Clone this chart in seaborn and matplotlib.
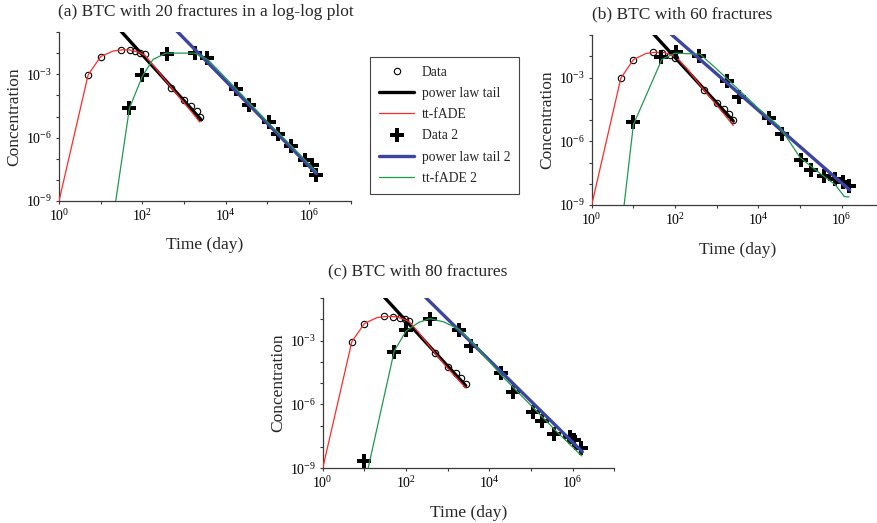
import numpy as np
import pandas as pd
import matplotlib
matplotlib.use("Agg")
import matplotlib.pyplot as plt
import seaborn as sns
from matplotlib.ticker import FixedLocator, FuncFormatter, NullLocator

# ---------------- data ----------------
# (a) 20 fractures
t_data_a = [5, 10, 30, 50, 65, 90, 115, 500, 1000, 1500, 2000, 2400]
c_data_a = [9.3e-4, 6.9e-3, 1.45e-2, 1.35e-2, 1.26e-2, 1.05e-2, 9.3e-3, 2.3e-4, 6.2e-5, 3e-5, 1.9e-5, 1e-5]
t_tail_a = [30, 2600]
c_tail_a = [0.115, 6.9e-6]
t_fade_a = [1, 5, 10, 20, 35, 50, 80, 115, 200, 500, 1000, 2400]
c_fade_a = [1e-9, 9.3e-4, 6.9e-3, 1.26e-2, 1.45e-2, 1.41e-2, 1.12e-2, 7.9e-3, 2.1e-3, 2.3e-4, 4.5e-5, 5.4e-6]
t_data2_a = [49, 100, 380, 1800, 3500, 18000, 37000, 1.1e5, 1.8e5, 3.6e5, 8e5, 1.15e6, 1.5e6]
c_data2_a = [2.4e-5, 9.3e-4, 9.5e-3, 1e-2, 6e-3, 1.9e-4, 3.5e-5, 5.2e-6, 1.5e-6, 4e-7, 8.7e-8, 4.9e-8, 1.7e-8]
t_tail2_a = [660, 1.5e6]
c_tail2_a = [0.115, 2.0e-8]
t_fade2_a = [23, 49, 100, 180, 370, 1800, 3700, 18000, 1e5, 3.2e5, 1.5e6]
c_fade2_a = [1e-9, 2.5e-5, 8e-4, 5e-3, 1e-2, 1e-2, 5e-3, 2e-4, 5.6e-6, 5.6e-7, 2.5e-8]

# (b) 60 fractures
t_data_b = [5, 10, 30, 50, 75, 100, 500, 1000, 1500, 2000, 2500]
c_data_b = [9.3e-4, 6.9e-3, 1.55e-2, 1.45e-2, 1.15e-2, 8.5e-3, 2.6e-4, 6e-5, 3.2e-5, 1.9e-5, 1e-5]
t_tail_b = [30, 2500]
c_tail_b = [0.115, 8.9e-6]
t_fade_b = [1, 5, 10, 20, 35, 55, 80, 110, 200, 500, 1000, 2500]
c_fade_b = [1e-9, 9.3e-4, 6.9e-3, 1.35e-2, 1.55e-2, 1.48e-2, 1.17e-2, 8.5e-3, 2.4e-3, 2.5e-4, 5e-5, 5.5e-6]
t_data2_b = [10, 47, 105, 380, 1800, 3500, 18000, 37000, 1.05e5, 1.8e5, 3.7e5, 7e5, 1.1e6, 1.5e6]
c_data2_b = [8.1e-6, 9.5e-3, 1.55e-2, 1.05e-2, 7.1e-4, 1.2e-4, 1.2e-5, 2.1e-6, 1.35e-7, 4.5e-8, 2.3e-8, 1.6e-8, 1.15e-8, 7.9e-9]
t_tail2_b = [76, 1.55e6]
c_tail2_b = [0.12, 5.1e-9]
t_fade2_b = [6, 10, 48, 100, 400, 1000, 2000, 10000, 32000, 1e5, 3.2e5, 7e5, 1.15e6, 1.5e6]
c_fade2_b = [1e-9, 6e-6, 7e-3, 1.4e-2, 1.25e-2, 2.5e-3, 7e-4, 3.5e-5, 5e-6, 1.7e-7, 2.8e-8, 9e-9, 2.5e-9, 2.4e-9]

# (c) 80 fractures
t_data_c = [5, 10, 30, 50, 70, 95, 115, 500, 1000, 1600, 2100, 2700]
c_data_c = [8.9e-4, 6.3e-3, 1.38e-2, 1.35e-2, 1.15e-2, 1e-2, 7.9e-3, 2.5e-4, 5.6e-5, 3e-5, 1.66e-5, 9.5e-6]
t_tail_c = [30, 2700]
c_tail_c = [0.11, 7.6e-6]
t_fade_c = [1, 5, 10, 20, 35, 55, 85, 120, 200, 500, 1000, 2700]
c_fade_c = [1e-9, 8.9e-4, 6.3e-3, 1.2e-2, 1.38e-2, 1.32e-2, 1.05e-2, 7.6e-3, 2.4e-3, 2.5e-4, 5e-5, 6e-6]
t_data2_c = [10, 51, 102, 375, 1860, 3550, 19000, 37000, 1.1e5, 1.8e5, 3.6e5, 8.5e5, 1.1e6, 1.6e6]
c_data2_c = [2.2e-9, 3e-4, 3e-3, 1.05e-2, 3e-3, 5.5e-4, 3.1e-5, 3.7e-6, 4.3e-7, 1.6e-7, 4.3e-8, 3.1e-8, 2.1e-8, 9.1e-9]
t_tail2_c = [290, 1.7e6]
c_tail2_c = [0.11, 6e-9]
t_fade2_c = [12.3, 52, 100, 200, 370, 800, 1860, 4000, 20000, 1e5, 4e5, 1.66e6]
c_fade2_c = [1e-9, 3.2e-4, 2.8e-3, 7.1e-3, 1.07e-2, 7.6e-3, 3.4e-3, 7.9e-4, 2.2e-5, 8.9e-7, 5.6e-8, 3.8e-9]

titles = ["(a) BTC with 20 fractures in a log-log plot",
          "(b) BTC with 60 fractures",
          "(c) BTC with 80 fractures"]
series_labels = ["Data", "power law tail", "tt-fADE", "Data 2", "power law tail 2", "tt-fADE 2"]
x_label = "Time (day)"
y_label = "Concentration"
x_decades = [0, 1, 2, 3, 4, 5, 6, 7]
x_labeled = [0, 2, 4, 6]
y_decades = [-9, -8, -7, -6, -5, -4, -3, -2, -1]
y_labeled = [-9, -6, -3]

# ---------------- style ----------------
sns.set_theme(style="ticks")
plt.rcParams["font.family"] = ["Liberation Serif", "DejaVu Serif"]
plt.rcParams["mathtext.fontset"] = "custom"
plt.rcParams["mathtext.rm"] = "Liberation Serif"
plt.rcParams["mathtext.it"] = "Liberation Serif:italic"
plt.rcParams["mathtext.bf"] = "Liberation Serif:bold"

RED = "#ff2a2a"
GREEN = "#1f9a4c"
BLUE = "#3b44a0"
AX_COL = "#3a3a3a"

W, H = 878, 523
fig = plt.figure(figsize=(W / 100, H / 100), dpi=100)
fig.patch.set_facecolor("white")

# axes boxes in pixels: left, bottom(y from top), width, height
boxes = [(59, 201, 291.7, 169), (591.7, 205, 291.7, 170), (322.7, 468.3, 291.7, 170.3)]
title_pos = [(58, 12), (592, 14.5), (328, 271.5)]

panels = [
    (t_data_a, c_data_a, t_tail_a, c_tail_a, t_fade_a, c_fade_a,
     t_data2_a, c_data2_a, t_tail2_a, c_tail2_a, t_fade2_a, c_fade2_a),
    (t_data_b, c_data_b, t_tail_b, c_tail_b, t_fade_b, c_fade_b,
     t_data2_b, c_data2_b, t_tail2_b, c_tail2_b, t_fade2_b, c_fade2_b),
    (t_data_c, c_data_c, t_tail_c, c_tail_c, t_fade_c, c_fade_c,
     t_data2_c, c_data2_c, t_tail2_c, c_tail2_c, t_fade2_c, c_fade2_c),
]


def exp_label(decade_list):
    def fmt(v, pos):
        k = int(round(np.log10(v)))
        return r"$10^{%d}$" % k if k in decade_list else ""
    return FuncFormatter(fmt)


handles = None
for i, (box, data) in enumerate(zip(boxes, panels)):
    left, bottom, w, h = box
    ax = fig.add_axes([left / W, 1 - bottom / H, w / W, h / H])
    ax.set_xscale("log")
    ax.set_yscale("log")
    (td, cd, tt, ct, tf, cf, td2, cd2, tt2, ct2, tf2, cf2) = data

    common = dict(ax=ax, estimator=None, sort=False, legend=False)
    sns.lineplot(x=td, y=cd, marker="o", linestyle="none", mfc="none", mec="black",
                 mew=0.8, ms=4.6, color="black", label=series_labels[0], zorder=3, **common)
    sns.lineplot(x=tt, y=ct, color="black", lw=2.4, label=series_labels[1], zorder=4, **common)
    sns.lineplot(x=tf, y=cf, color=RED, lw=0.9, label=series_labels[2], zorder=5, **common)
    sns.lineplot(x=td2, y=cd2, marker="P", linestyle="none", mfc="black", mec="black",
                 mew=0, ms=9.5, color="black", label=series_labels[3], zorder=6, **common)
    sns.lineplot(x=tt2, y=ct2, color=BLUE, lw=2.4, label=series_labels[4], zorder=7, **common)
    sns.lineplot(x=tf2, y=cf2, color=GREEN, lw=0.9, label=series_labels[5], zorder=8, **common)

    ax.set_xlim(1, 1e7)
    ax.set_ylim(1e-9, 1e-1)
    ax.xaxis.set_major_locator(FixedLocator([10.0 ** k for k in x_decades]))
    ax.yaxis.set_major_locator(FixedLocator([10.0 ** k for k in y_decades]))
    ax.xaxis.set_minor_locator(NullLocator())
    ax.yaxis.set_minor_locator(NullLocator())
    ax.xaxis.set_major_formatter(exp_label(x_labeled))
    ax.yaxis.set_major_formatter(exp_label(y_labeled))
    ax.tick_params(axis="both", which="major", direction="out", length=2.5, width=0.8,
                   color=AX_COL, labelsize=10, labelcolor="black", pad=2.5)

    for side in ["top", "right"]:
        ax.spines[side].set_visible(False)
    for side in ["left", "bottom"]:
        ax.spines[side].set_color(AX_COL)
        ax.spines[side].set_linewidth(0.9)
    ax.set_facecolor("none")

    ax.set_xlabel(x_label, fontsize=12.5)
    ax.set_ylabel(y_label, fontsize=12.5)
    ax.xaxis.set_label_coords(0.5, -0.215)
    ax.yaxis.set_label_coords(-0.125, 0.5)

    tx, ty = title_pos[i]
    fig.text(tx / W, 1 - ty / H, titles[i], ha="left", va="center", fontsize=12.5)

    if handles is None:
        handles, labels = ax.get_legend_handles_labels()

leg = fig.legend(handles, labels, loc="upper left", bbox_to_anchor=(370 / W, 1 - 57 / H),
                 frameon=True, fancybox=False, edgecolor="#444444", framealpha=1,
                 fontsize=9.8, handlelength=2.6, handletextpad=0.55, labelspacing=0.6,
                 borderpad=0.65, borderaxespad=0)
leg.get_frame().set_linewidth(0.8)

fig.savefig("out.png", dpi=100, facecolor="white")
